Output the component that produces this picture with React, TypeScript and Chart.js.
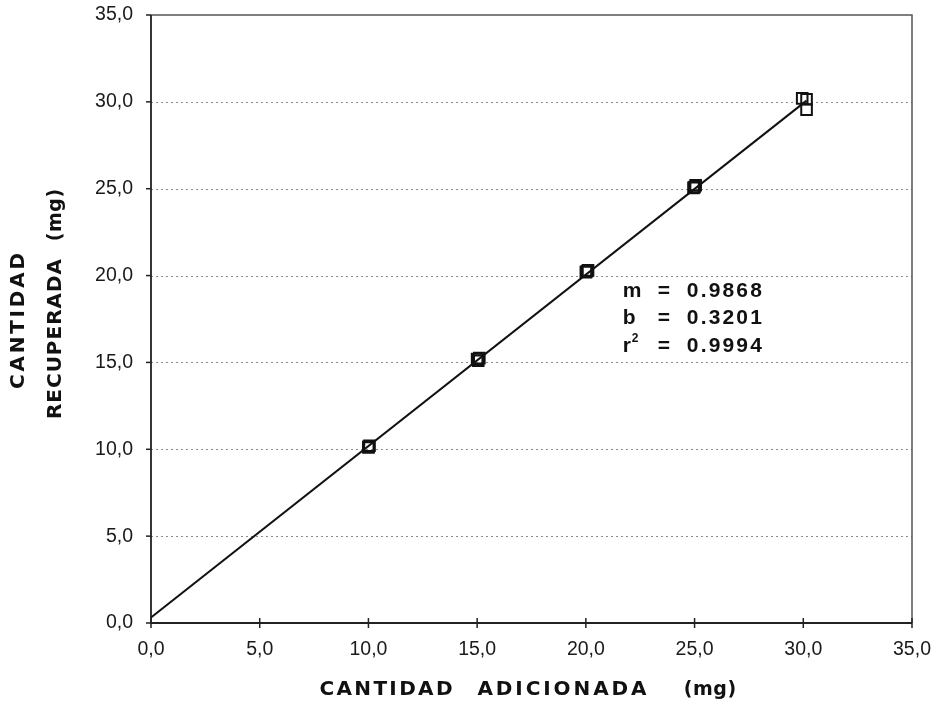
import React, { useEffect, useRef } from "react";
import { Chart, registerables } from "chart.js";

Chart.register(...registerables);

// Added amount (mg) and recovered amount (mg), three replicates per level
const addedMg = [10.0, 10.05, 10.0, 15.0, 15.1, 15.05, 20.05, 20.1, 20.0, 25.0, 25.05, 24.95, 29.95, 30.15, 30.15];
const recoveredMg = [10.15, 10.2, 10.1, 15.2, 15.25, 15.1, 20.25, 20.3, 20.2, 25.1, 25.2, 25.05, 30.2, 30.15, 29.55];

// Least-squares fit shown in the annotation
const slope = 0.9868;
const intercept = 0.3201;
const rSquared = 0.9994;
const fitRange = [0, 30.15];

const axisMin = 0;
const axisMax = 35;
const axisStep = 5;

const TITLE_FONT = 'bold 20px "DejaVu Sans", "Liberation Sans", sans-serif';
const UNIT_FONT = 'bold 19px "DejaVu Sans", "Liberation Sans", sans-serif';
const NOTE_FONT = 'bold 21px "Liberation Sans"';

const fmt = (v: number) => v.toFixed(1).replace(".", ",");

// Draws text with its characters spread so the run spans about `width` pixels.
function drawFitted(
  ctx: CanvasRenderingContext2D,
  text: string,
  x: number,
  y: number,
  width: number,
  align: "left" | "center"
) {
  const chars = Array.from(text);
  const widths = chars.map((ch) => ctx.measureText(ch).width);
  const natural = widths.reduce((a, b) => a + b, 0);
  const gap = chars.length > 1 ? Math.max(0.5, (width - natural) / (chars.length - 1)) : 0;
  const total = natural + gap * (chars.length - 1);
  let cx = align === "center" ? x - total / 2 : x;
  chars.forEach((ch, i) => {
    ctx.fillText(ch, cx, y);
    cx += widths[i] + gap;
  });
}

const framePlugin = {
  id: "frame",
  beforeDatasetsDraw(chart: any) {
    const { ctx, chartArea: a, scales } = chart;
    const xs = scales.x;
    const ys = scales.y;
    ctx.save();
    // dotted horizontal grid
    ctx.strokeStyle = "#8a8a8a";
    ctx.lineWidth = 1;
    ctx.setLineDash([2, 3]);
    for (let v = axisMin + axisStep; v < axisMax; v += axisStep) {
      const y = Math.round(ys.getPixelForValue(v)) + 0.5;
      ctx.beginPath();
      ctx.moveTo(a.left, y);
      ctx.lineTo(a.right, y);
      ctx.stroke();
    }
    ctx.setLineDash([]);
    // top and right frame
    ctx.strokeStyle = "#555";
    ctx.lineWidth = 1.5;
    ctx.beginPath();
    ctx.moveTo(a.left, a.top);
    ctx.lineTo(a.right, a.top);
    ctx.lineTo(a.right, a.bottom);
    ctx.stroke();
    // left and bottom axes
    ctx.strokeStyle = "#222";
    ctx.lineWidth = 1.8;
    ctx.beginPath();
    ctx.moveTo(a.left, a.top);
    ctx.lineTo(a.left, a.bottom);
    ctx.lineTo(a.right, a.bottom);
    ctx.stroke();
    // tick marks
    ctx.lineWidth = 1.5;
    for (let v = axisMin; v <= axisMax; v += axisStep) {
      const y = ys.getPixelForValue(v);
      ctx.beginPath();
      ctx.moveTo(a.left - 5, y);
      ctx.lineTo(a.left, y);
      ctx.stroke();
      const x = xs.getPixelForValue(v);
      ctx.beginPath();
      ctx.moveTo(x, a.bottom - 5);
      ctx.lineTo(x, a.bottom + 5);
      ctx.stroke();
    }
    ctx.restore();
  },
  afterDraw(chart: any) {
    const { ctx, scales } = chart;
    const xs = scales.x;
    ctx.save();
    ctx.fillStyle = "#111";
    ctx.textBaseline = "middle";

    // axis titles
    const xt = 690;
    ctx.font = TITLE_FONT;
    drawFitted(ctx, "CANTIDAD", 386, xt, 133, "center");
    drawFitted(ctx, "ADICIONADA", 562, xt, 169, "center");
    ctx.font = UNIT_FONT;
    drawFitted(ctx, "(mg)", 710, xt, 46, "center");

    ctx.save();
    ctx.translate(19, 0);
    ctx.rotate(-Math.PI / 2);
    ctx.font = TITLE_FONT;
    drawFitted(ctx, "CANTIDAD", -321, 0, 136, "center");
    ctx.restore();
    ctx.save();
    ctx.translate(56, 0);
    ctx.rotate(-Math.PI / 2);
    ctx.font = TITLE_FONT;
    drawFitted(ctx, "RECUPERADA", -339, 0, 160, "center");
    ctx.font = UNIT_FONT;
    drawFitted(ctx, "(mg)", -215, 0, 45, "center");
    ctx.restore();

    // regression annotation
    ctx.textBaseline = "alphabetic";
    const col0 = xs.getPixelForValue(21.7);
    const colEq = col0 + 35;
    const colVal = col0 + 64;
    const rows = [
      { k: "m", v: slope.toFixed(4), y: 297 },
      { k: "b", v: intercept.toFixed(4), y: 324 },
      { k: "r", v: rSquared.toFixed(4), y: 352 },
    ];
    rows.forEach((r) => {
      ctx.font = NOTE_FONT;
      ctx.fillText(r.k, col0, r.y);
      ctx.fillText("=", colEq, r.y);
      drawFitted(ctx, r.v, colVal, r.y, 75, "left");
      if (r.k === "r") {
        ctx.font = 'bold 12px "Liberation Sans"';
        ctx.fillText("2", col0 + 9, r.y - 10);
      }
    });
    ctx.restore();
  },
};

export default function App() {
  const ref = useRef<HTMLCanvasElement | null>(null);

  useEffect(() => {
    if (!ref.current) return;
    const points = addedMg.map((x, i) => ({ x, y: recoveredMg[i] }));
    const fitLine = fitRange.map((x) => ({ x, y: slope * x + intercept }));

    const chart = new Chart(ref.current, {
      type: "scatter",
      data: {
        datasets: [
          {
            label: "Recuperado",
            data: points,
            pointStyle: "rect",
            pointRadius: 7.5,
            pointBorderWidth: 2,
            pointBorderColor: "#111",
            pointBackgroundColor: "rgba(255,255,255,0)",
            showLine: false,
            order: 1,
          },
          {
            label: "Ajuste",
            type: "line",
            data: fitLine,
            borderColor: "#111",
            borderWidth: 2,
            pointRadius: 0,
            fill: false,
            order: 2,
          },
        ],
      },
      options: {
        animation: false,
        responsive: false,
        layout: { padding: { top: 15, right: 24, left: 0, bottom: 0 } },
        plugins: { legend: { display: false }, tooltip: { enabled: false } },
        scales: {
          x: {
            type: "linear",
            min: axisMin,
            max: axisMax,
            grid: { display: false, drawTicks: false },
            border: { display: false },
            ticks: {
              stepSize: axisStep,
              padding: 15,
              color: "#1a1a1a",
              font: { family: '"Liberation Sans"', size: 19.5 },
              callback: (v: any) => fmt(Number(v)),
              maxRotation: 0,
            },
            afterFit: (s: any) => {
              s.height = 84;
              s.paddingLeft = 0;
              s.paddingRight = 0;
            },
          },
          y: {
            type: "linear",
            min: axisMin,
            max: axisMax,
            grid: { display: false, drawTicks: true, tickLength: 5 },
            border: { display: false },
            ticks: {
              stepSize: axisStep,
              padding: 13,
              color: "#1a1a1a",
              font: { family: '"Liberation Sans"', size: 19.5 },
              callback: (v: any) => fmt(Number(v)),
            },
            afterFit: (s: any) => {
              s.width = 151;
              s.paddingTop = 0;
              s.paddingBottom = 0;
            },
          },
        },
      },
      plugins: [framePlugin],
    });
    return () => chart.destroy();
  }, []);

  return (
    <div style={{ position: "absolute", left: 0, top: 0, width: 936, height: 707, background: "#fff" }}>
      <canvas ref={ref} width={936} height={707} />
    </div>
  );
}
